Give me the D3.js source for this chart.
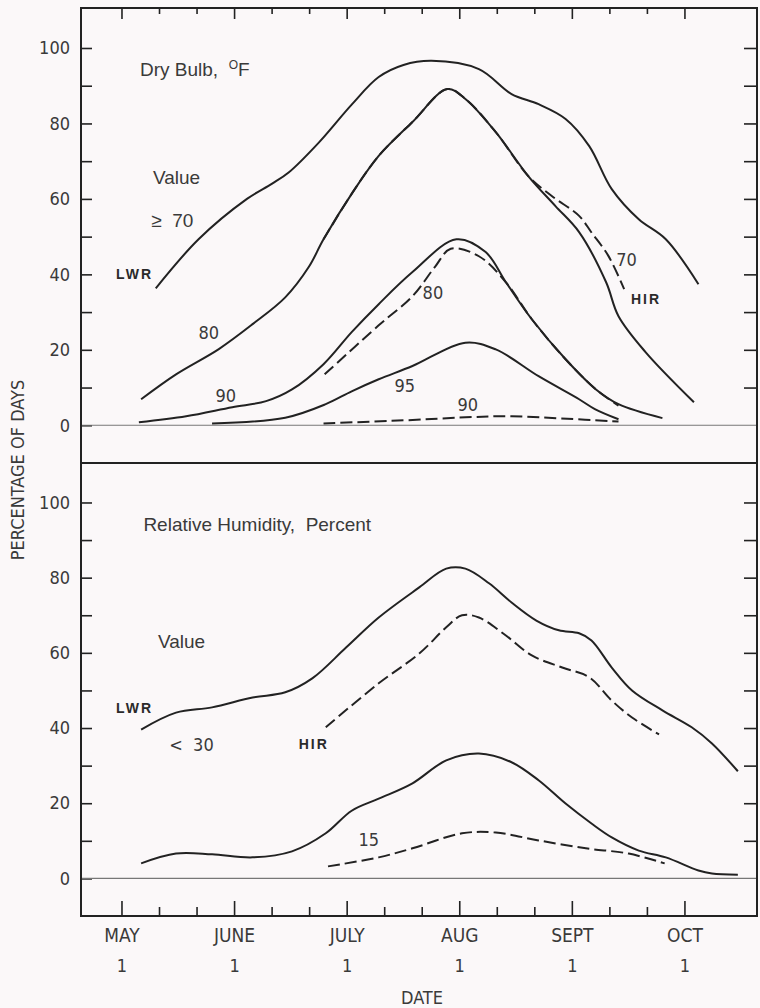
<!DOCTYPE html>
<html>
<head>
<meta charset="utf-8">
<script src="https://cdn.jsdelivr.net/npm/d3@7"></script>
<style>
  html, body { margin: 0; padding: 0; background: #fbf8f9; }
  svg { display: block; }
  .narrow { font-family: 'Liberation Sans Narrow', 'Arial Narrow', 'DejaVu Sans Condensed', sans-serif; fill: #3a3a3a; }
  .plain  { font-family: 'Liberation Sans', Arial, sans-serif; fill: #3a3a3a; }
  .tag    { font-family: 'Liberation Sans', Arial, sans-serif; fill: #2a2a2a; font-weight: bold; letter-spacing: 2px; }
</style>
</head>
<body>
<svg id="chart" width="760" height="1008"></svg>
<script>
// ---- Axis labels -------------------------------------------------------
// Dates are in months after May 1 (each month drawn the same width).
const monthNames = ["MAY", "JUNE", "JULY", "AUG", "SEPT", "OCT"];
const monthDays  = ["1", "1", "1", "1", "1", "1"];
const monthStarts = [0, 1, 2, 3, 4, 5];
const percentLabels = [0, 20, 40, 60, 80, 100];

// ---- Dry bulb temperature: percentage of days at or above a value -----
// [month position, percent of days]
const dryBulb70Lwr = [[0.30,36.3],[0.68,49.3],[1.11,60],[1.33,64],[1.48,67],[1.75,75],[2.04,85],[2.28,92.3],[2.50,95.5],[2.75,96.6],[3.17,94.4],[3.46,87.8],[3.70,85.1],[3.94,81.2],[4.15,74],[4.35,62.6],[4.59,54.6],[4.83,49.3],[5.12,37.4]];
const dryBulb80Lwr = [[0.17,6.9],[0.48,13.5],[0.86,20.2],[1.16,26.8],[1.45,33.9],[1.66,42],[1.79,49.3],[2.05,61.8],[2.28,71.4],[2.58,80.4],[2.89,89.1],[3.05,86.5],[3.32,77.7],[3.61,66],[3.85,58.1],[4.06,51.2],[4.30,37.9],[4.41,28.9],[4.65,19.4],[5.08,6.1]];
const dryBulb90Lwr = [[0.15,0.8],[0.57,2.4],[0.98,4.8],[1.28,6.4],[1.51,9.5],[1.79,16.2],[2.04,24.7],[2.28,32.1],[2.58,40.6],[2.97,49.3],[3.23,45.9],[3.41,37.9],[3.64,28.1],[3.94,17.5],[4.21,9.5],[4.41,5.6],[4.80,1.9]];
const dryBulb95Lwr = [[0.80,0.5],[1.45,2],[1.81,5.6],[2.04,9],[2.28,12.2],[2.58,15.7],[3.05,21.9],[3.32,20.1],[3.70,13],[4.06,6.9],[4.20,4.3],[4.41,1.6]];
const dryBulb70Hir = [[1.79,49.3],[2.05,61.8],[2.28,71.4],[2.58,80.4],[2.89,89.1],[3.05,86.5],[3.32,77.7],[3.61,66],[3.82,60.7],[4.06,55.5],[4.17,51.1],[4.32,44.9],[4.46,36.1]];
const dryBulb80Hir = [[1.80,13.5],[2.28,26.5],[2.58,34.2],[2.78,42],[2.92,46.8],[3.17,44.8],[3.41,37.9],[3.64,28.1],[3.94,17.5],[4.21,9.5],[4.41,5.2]];
const dryBulb90Hir = [[1.79,0.5],[2.50,1.3],[3.05,2.1],[3.46,2.4],[3.90,1.8],[4.41,1.0]];

// ---- Relative humidity: percentage of days below a value ---------------
const humidity30Lwr = [[0.17,39.6],[0.48,44.1],[0.80,45.5],[1.16,48.1],[1.45,49.5],[1.69,53.2],[1.99,61.4],[2.28,69.4],[2.64,77.4],[2.88,82.4],[3.05,82.4],[3.26,78.5],[3.46,73.4],[3.68,68.6],[3.88,66],[4.06,65.2],[4.17,63.3],[4.35,56.1],[4.53,50],[4.80,44.7],[5.06,40.2],[5.24,35.9],[5.47,28.5]];
const humidity30Hir = [[1.81,40.2],[2.28,51.9],[2.64,59.8],[2.88,66.8],[3.02,70],[3.17,69.4],[3.41,64.6],[3.64,59.3],[3.91,56.1],[4.15,53.5],[4.35,47.3],[4.53,42.8],[4.77,38.3]];
const humidity15Lwr = [[0.17,4],[0.48,6.6],[0.80,6.4],[1.16,5.6],[1.51,7.2],[1.81,12],[2.04,18],[2.28,21.2],[2.58,25.3],[2.88,31.4],[3.17,33.2],[3.46,30.9],[3.70,26.1],[3.94,19.9],[4.17,14.6],[4.35,10.9],[4.59,7.4],[4.83,5.6],[5.12,2.1],[5.24,1.3],[5.47,1]];
const humidity15Hir = [[1.83,3.2],[2.28,5.6],[2.58,8],[3.02,12],[3.32,12.2],[3.70,10.1],[4.12,8],[4.50,6.6],[4.82,4]];

// ---- In-plot annotations: [text, month position, percent, style] -------
const dryBulbNotes = [
  ["Value", 0.275, 63.9, "plain"],
  ["\u2265  70", 0.26, 52.5, "plain"],
  ["LWR", -0.053, 38.7, "tag"],
  ["80", 0.68, 22.8, "narrow"],
  ["90", 0.83, 6.1, "narrow"],
  ["70", 4.39, 42.2, "narrow"],
  ["HIR", 4.52, 32.1, "tag"],
  ["80", 2.67, 33.4, "narrow"],
  ["95", 2.42, 8.8, "narrow"],
  ["90", 2.98, 3.7, "narrow"]
];
const humidityNotes = [
  ["Relative Humidity,  Percent", 0.19, 92.3, "plain"],
  ["Value", 0.32, 61.4, "plain"],
  ["LWR", -0.053, 43.9, "tag"],
  ["<  30", 0.42, 33.8, "narrow"],
  ["HIR", 1.57, 34.3, "tag"],
  ["15", 2.10, 8.5, "narrow"]
];

// ---- Layout --------------------------------------------------------------
const svg = d3.select("#chart");
const frameLeft = 81, frameRight = 757, frameTop = 8, divider = 463, frameBottom = 916;
const ink = "#222";

const x = d3.scaleLinear().domain([-0.364, 5.64]).range([frameLeft, frameRight]);
const yTop = d3.scaleLinear().domain([-10, 110.6]).range([divider, frameTop]);
const yBottom = d3.scaleLinear().domain([-10, 110.5]).range([frameBottom, divider]);

const line = y => d3.line()
  .x(d => x(d[0]))
  .y(d => y(d[1]))
  .curve(d3.curveCatmullRom.alpha(0.5));

const minorTicks = d3.range(0, 16).map(i => i / 3);
const isMonth = v => Math.abs(v - Math.round(v)) < 1e-6;

function drawPanel(y, solid, dashed, notes) {
  const g = svg.append("g");

  // inward ticks on the left edge, every 10 percent
  const leftTicks = g.append("g")
    .attr("transform", `translate(${frameLeft},0)`)
    .call(d3.axisRight(y).tickValues(d3.range(0, 101, 10)).tickSize(11).tickFormat(""));
  leftTicks.select(".domain").remove();

  // labels every 20 percent
  const leftLabels = g.append("g")
    .attr("transform", `translate(${frameLeft},0)`)
    .call(d3.axisLeft(y).tickValues(percentLabels).tickSize(0).tickPadding(11));
  leftLabels.select(".domain").remove();
  leftLabels.attr("font-family", null).attr("font-size", null);
  leftLabels.selectAll("text")
    .attr("class", "narrow")
    .attr("font-size", 18)
    .attr("fill", "#3a3a3a");

  // inward ticks on the right edge
  const rightTicks = g.append("g")
    .attr("transform", `translate(${frameRight},0)`)
    .call(d3.axisLeft(y).tickValues(d3.range(10, 101, 10)).tickSize(13).tickFormat(""));
  rightTicks.select(".domain").remove();

  g.selectAll(".tick line").attr("stroke", ink).attr("stroke-width", 1.6);

  // zero reference line
  g.append("line")
    .attr("x1", frameLeft).attr("x2", frameRight)
    .attr("y1", y(0)).attr("y2", y(0))
    .attr("stroke", "#777").attr("stroke-width", 1.1);

  g.selectAll("path.solid")
    .data(solid)
    .join("path")
    .attr("class", "solid")
    .attr("d", line(y))
    .attr("fill", "none")
    .attr("stroke", ink)
    .attr("stroke-width", 2);

  g.selectAll("path.dashed")
    .data(dashed)
    .join("path")
    .attr("class", "dashed")
    .attr("d", line(y))
    .attr("fill", "none")
    .attr("stroke", ink)
    .attr("stroke-width", 2)
    .attr("stroke-dasharray", "12,5");

  g.selectAll("text.note")
    .data(notes)
    .join("text")
    .attr("class", d => "note " + d[3])
    .attr("x", d => x(d[1]))
    .attr("y", d => y(d[2]))
    .attr("font-size", d => d[3] === "tag" ? 14 : d[3] === "plain" ? 19 : 18)
    .style("white-space", "pre")
    .text(d => d[0]);

  return g;
}

const dryBulbPanel = drawPanel(yTop,
  [dryBulb70Lwr, dryBulb80Lwr, dryBulb90Lwr, dryBulb95Lwr],
  [dryBulb70Hir, dryBulb80Hir, dryBulb90Hir],
  dryBulbNotes);

// panel title with the degree mark raised
const title = dryBulbPanel.append("text")
  .attr("class", "plain")
  .attr("x", x(0.16)).attr("y", yTop(92.6))
  .attr("font-size", 19)
  .style("white-space", "pre");
title.append("tspan").text("Dry Bulb,  ");
title.append("tspan").attr("font-size", 12).attr("dy", -7).text("O");
title.append("tspan").attr("dy", 7).text("F");

drawPanel(yBottom,
  [humidity30Lwr, humidity15Lwr],
  [humidity30Hir, humidity15Hir],
  humidityNotes);

// date ticks hanging from the top edge
const topAxis = svg.append("g");
topAxis.selectAll("line")
  .data(minorTicks)
  .join("line")
  .attr("x1", d => x(d)).attr("x2", d => x(d))
  .attr("y1", frameTop)
  .attr("y2", d => frameTop + (isMonth(d) ? 11 : 6))
  .attr("stroke", ink).attr("stroke-width", 1.6);

// date ticks rising from the bottom edge
const bottomAxis = svg.append("g");
bottomAxis.selectAll("line")
  .data(minorTicks)
  .join("line")
  .attr("x1", d => x(d)).attr("x2", d => x(d))
  .attr("y1", frameBottom)
  .attr("y2", d => frameBottom - (isMonth(d) ? 15 : 9))
  .attr("stroke", ink).attr("stroke-width", 1.6);

bottomAxis.selectAll("text.month")
  .data(monthStarts)
  .join("text")
  .attr("class", "month narrow")
  .attr("x", d => x(d)).attr("y", 942)
  .attr("text-anchor", "middle")
  .attr("font-size", 19)
  .text((d, i) => monthNames[i]);

bottomAxis.selectAll("text.day")
  .data(monthStarts)
  .join("text")
  .attr("class", "day narrow")
  .attr("x", d => x(d)).attr("y", 972)
  .attr("text-anchor", "middle")
  .attr("font-size", 18)
  .text((d, i) => monthDays[i]);

svg.append("text")
  .attr("class", "narrow")
  .attr("x", 422).attr("y", 1004)
  .attr("text-anchor", "middle")
  .attr("font-size", 18)
  .text("DATE");

svg.append("text")
  .attr("class", "narrow")
  .attr("transform", "translate(24,470) rotate(-90)")
  .attr("text-anchor", "middle")
  .attr("font-size", 18)
  .text("PERCENTAGE OF DAYS");

// frame and divider
svg.append("rect")
  .attr("x", frameLeft).attr("y", frameTop)
  .attr("width", frameRight - frameLeft).attr("height", frameBottom - frameTop)
  .attr("fill", "none").attr("stroke", ink).attr("stroke-width", 2);
svg.append("line")
  .attr("x1", frameLeft).attr("x2", frameRight)
  .attr("y1", divider).attr("y2", divider)
  .attr("stroke", ink).attr("stroke-width", 2);
</script>
</body>
</html>
